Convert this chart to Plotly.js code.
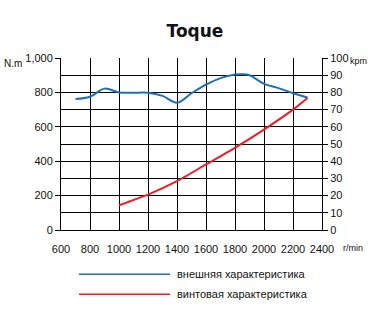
<!DOCTYPE html>
<html>
<head>
<meta charset="utf-8">
<script src="https://cdn.plot.ly/plotly-3.0.1.min.js"></script>
<style>html,body{margin:0;padding:0;background:#fff;}#chart{width:375px;height:327px;}</style>
</head>
<body>
<div id="chart"></div>
<script>
const blueRpm = [700, 800, 900, 1000, 1100, 1200, 1300, 1400, 1500, 1600, 1700, 1800, 1850, 1900, 2000, 2100, 2200, 2300];
const blueTorque = [762, 775, 822, 800, 798, 798, 780, 740, 795, 845, 883, 904, 906, 900, 850, 825, 795, 770];
const redRpm = [1000, 1200, 1400, 1600, 1800, 2000, 2200, 2300];
const redTorque = [144, 206, 284, 381, 478, 584, 700, 768];
const leftTicks = [0, 200, 400, 600, 800, 1000];
const leftTickText = ['0', '200', '400', '600', '800', '1,000'];
const seriesNames = ['внешняя характеристика', 'винтовая характеристика'];
const seriesColors = ['#1f6fb5', '#ee1c24'];

const F = '"Liberation Sans", Arial, sans-serif';
const tf = {family: F, size: 11, color: '#111'};

const traces = [
  {x: blueRpm, y: blueTorque, type: 'scatter', mode: 'lines', name: seriesNames[0],
   line: {color: seriesColors[0], width: 2, shape: 'spline', smoothing: 1}},
  {x: redRpm, y: redTorque, type: 'scatter', mode: 'lines', name: seriesNames[1],
   line: {color: seriesColors[1], width: 2, shape: 'spline', smoothing: 0.6}},
  {x: [600], y: [0], yaxis: 'y2', type: 'scatter', mode: 'markers', marker: {opacity: 0}, hoverinfo: 'skip', showlegend: false}
];

const lx0 = (79 - 61) / 261, lx1 = (170 - 61) / 261, ltx = (175 - 61) / 261;
const ly1 = (230 - 274.3) / 172, ly2 = (230 - 294.3) / 172;

const layout = {
  width: 375, height: 327,
  margin: {l: 61, r: 53, t: 58, b: 97},
  paper_bgcolor: '#fff', plot_bgcolor: '#fff',
  showlegend: false,
  title: {text: '<b>Toque</b>', xref: 'container', x: 195 / 375, xanchor: 'center', yref: 'container', y: 1 - 31 / 327, yanchor: 'middle',
          font: {family: '"DejaVu Sans", sans-serif', size: 17, color: '#111'}},
  font: tf,
  xaxis: {range: [600, 2400], dtick: 200, tick0: 600, tickangle: 0, showgrid: true, gridcolor: '#000', gridwidth: 1,
          showline: true, linecolor: '#000', linewidth: 1, ticks: 'inside', ticklen: 4, tickcolor: '#000',
          ticklabelstandoff: 9, zeroline: false, tickfont: tf},
  yaxis: {range: [0, 1000], tickvals: leftTicks, ticktext: leftTickText, showgrid: true, gridcolor: '#000', gridwidth: 1,
          showline: true, linecolor: '#000', linewidth: 1, ticks: 'outside', ticklen: 5, tickcolor: '#000',
          zeroline: false, tickfont: tf},
  yaxis2: {range: [0, 100], dtick: 10, overlaying: 'y', side: 'right', showgrid: true, gridcolor: '#000', gridwidth: 1,
           showline: true, linecolor: '#000', linewidth: 1, ticks: 'outside', ticklen: 5, tickcolor: '#000',
           zeroline: false, tickfont: tf},
  shapes: [
    {type: 'line', xref: 'paper', yref: 'paper', x0: lx0, x1: lx1, y0: ly1, y1: ly1,
     line: {color: seriesColors[0], width: 1.5}},
    {type: 'line', xref: 'paper', yref: 'paper', x0: lx0, x1: lx1, y0: ly2, y1: ly2,
     line: {color: seriesColors[1], width: 1.5}}
  ],
  annotations: [
    {text: seriesNames[0], xref: 'paper', yref: 'paper', x: ltx, y: ly1, xanchor: 'left', yanchor: 'middle',
     showarrow: false, font: {family: F, size: 11, color: '#111'}},
    {text: seriesNames[1], xref: 'paper', yref: 'paper', x: ltx, y: ly2, xanchor: 'left', yanchor: 'middle',
     showarrow: false, font: {family: F, size: 11, color: '#111'}},
    {text: 'N.m', xref: 'paper', yref: 'paper', x: (24 - 61) / 261, y: (230 - 64) / 172, xanchor: 'right', yanchor: 'middle',
     showarrow: false, font: {family: F, size: 10, color: '#111'}},
    {text: 'kpm', xref: 'paper', yref: 'paper', x: (348 - 61) / 261, y: (230 - 61) / 172, xanchor: 'left', yanchor: 'middle',
     showarrow: false, font: {family: F, size: 9, color: '#111'}},
    {text: 'r/min', xref: 'paper', yref: 'paper', x: (341 - 61) / 261, y: (230 - 248) / 172, xanchor: 'left', yanchor: 'middle',
     showarrow: false, font: {family: F, size: 9, color: '#111'}}
  ]
};

Plotly.newPlot('chart', traces, layout, {staticPlot: true, displayModeBar: false});
</script>
</body>
</html>
